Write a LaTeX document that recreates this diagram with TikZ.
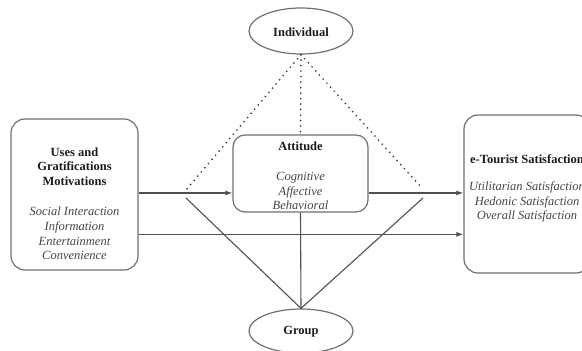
\documentclass[tikz,border=0pt]{standalone}
\usepackage{fontspec}
\setmainfont{Liberation Serif}
\usetikzlibrary{arrows.meta,calc,shapes.geometric}
\definecolor{edgegray}{HTML}{707070}
\definecolor{linegray}{HTML}{505050}
\definecolor{titleink}{HTML}{1C1C1C}
\definecolor{itemink}{HTML}{454545}
\tikzset{
  panel/.style={draw=edgegray, line width=1.2pt, rounded corners=14pt, inner sep=0pt},
  oval/.style={draw=edgegray, line width=1.2pt, ellipse, inner sep=0pt},
  title/.style={font=\fontsize{12.5}{14.5}\selectfont\bfseries, text=titleink, align=center, inner sep=0pt},
  items/.style={font=\fontsize{12.5}{14.8}\selectfont\itshape, text=itemink, align=center, inner sep=0pt},
  link/.style={draw=linegray, line width=1.1pt},
  arr/.style={link, -{Latex[length=7pt,width=5pt]}},
  dots/.style={draw=linegray!80!black, line width=1.9pt, line cap=round, dash pattern=on 0pt off 5.5pt}
}
\begin{document}
\begin{tikzpicture}[x=1pt,y=-1pt]
\useasboundingbox (0,0) rectangle (582,351);
\clip (0,0) rectangle (582,351);
\fill[white] (0,0) rectangle (582,351);

% main blocks
\node[panel, minimum width=127pt, minimum height=151pt] (L) at (74.5,194.5) {};
\node[panel, minimum width=135pt, minimum height=77pt, rounded corners=12pt] (A) at (300.5,173.5) {};
\node[panel, minimum width=126pt, minimum height=158pt] (R) at (527,194) {};
\node[oval, minimum width=104pt, minimum height=46pt] (I) at (301,31) {};
\node[oval, minimum width=104pt, minimum height=44pt] (G) at (301,331) {};

% texts
\node[title] (Lt) at (74.5,166.5) {Uses and\\Gratifications\\Motivations};
\node[items] (Li) at (74.5,233.5) {Social Interaction\\Information\\Entertainment\\Convenience};
\node[title] (At) at (300.5,146) {Attitude};
\node[items] (Ai) at (300.5,191) {Cognitive\\Affective\\Behavioral};
\node[title] (Rt) at (527,159) {e-Tourist Satisfaction};
\node[items] (Ri) at (527,202) {Utilitarian Satisfaction\\Hedonic Satisfaction\\Overall Satisfaction};
\node[title] (It) at (301,32) {Individual};
\node[title] (Gt) at (301,332) {Group};

% free ends of the moderator links
\coordinate (dl) at (186,190);
\coordinate (dr) at (422,188);
\coordinate (sl) at (186,198);
\coordinate (sr) at (423,198);

% direct paths
\coordinate (upL) at ($(L.south east)!0.51!(L.north east)$);
\coordinate (lowL) at ($(L.south east)!0.238!(L.north east)$);
\draw[arr] (upL) -- (A.west |- upL);
\draw[arr] (A.east |- upL) -- (R.west |- upL);
\draw[arr] (lowL) -- (R.west |- lowL);

% individual moderator (dotted)
\draw[dots] (I.south) -- (dl);
\draw[dots] (I.south) -- (A.north);
\draw[dots] (I.south) -- (dr);

% group moderator (solid)
\draw[link] (G.north) -- (sl);
\draw[link] (G.north) -- (A.south);
\draw[link] (G.north) -- (sr);
\end{tikzpicture}
\end{document}
